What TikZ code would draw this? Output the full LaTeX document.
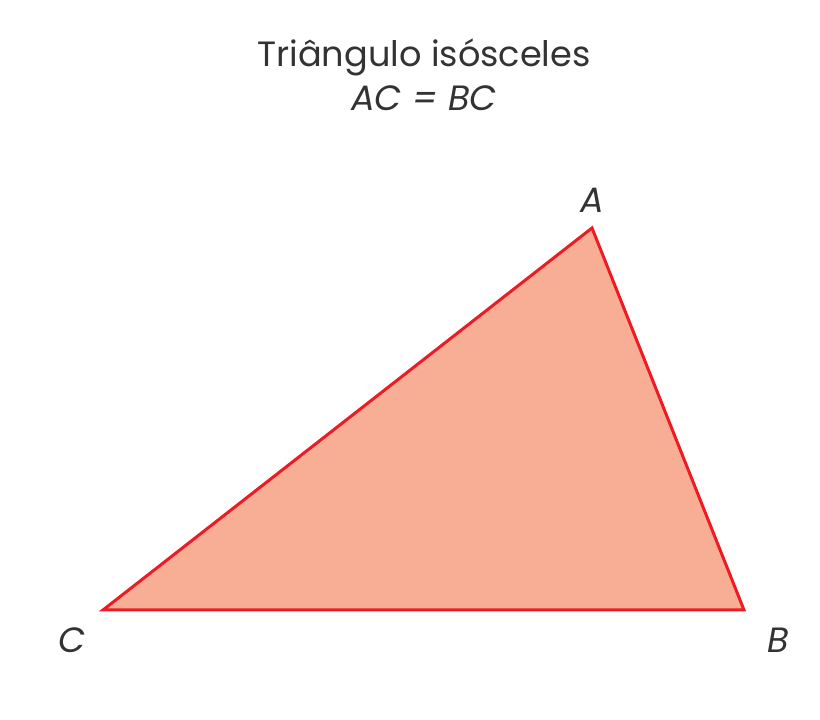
\documentclass[tikz,border=0pt]{standalone}
\usepackage{fontspec}
\setmainfont{Poppins}
\begin{document}
\begin{tikzpicture}[
    vertex/.style={circle, inner sep=0pt, minimum size=0pt},
    vlabel/.style={font=\fontsize{10}{12}\selectfont\itshape, text=black!80, inner sep=1pt},
    title/.style={font=\fontsize{10}{12}\selectfont, text=black!80, align=center},
    side/.style={line width=0.85pt, draw=trired, line join=miter},
]
\definecolor{trired}{RGB}{237,28,36}
\definecolor{trifill}{RGB}{248,174,149}
\useasboundingbox (0,0) rectangle (8.2,7.2);
  % vertices of the triangle
  \node[vertex] (v_A) at (5.92, 4.92) {};
  \node[vertex] (v_B) at (7.44, 1.10) {};
  \node[vertex] (v_C) at (1.03, 1.10) {};
  \fill[trifill] (v_A.center) -- (v_B.center) -- (v_C.center) -- cycle;
  \draw[side] (v_A.center) -- (v_B.center) -- (v_C.center) -- cycle;
  % labels
  \node[vlabel] (l_A) at (5.92, 5.20) {A};
  \node[vlabel] (l_B) at (7.78, 0.80) {B};
  \node[vlabel] (l_C) at (0.72, 0.80) {C};
  \node[title] (t_name) at (4.24, 6.63) {Triângulo isósceles};
  \node[title, font=\fontsize{10}{12}\selectfont\itshape] (t_eq) at (4.24, 6.22) {AC = BC};
\end{tikzpicture}
\end{document}
